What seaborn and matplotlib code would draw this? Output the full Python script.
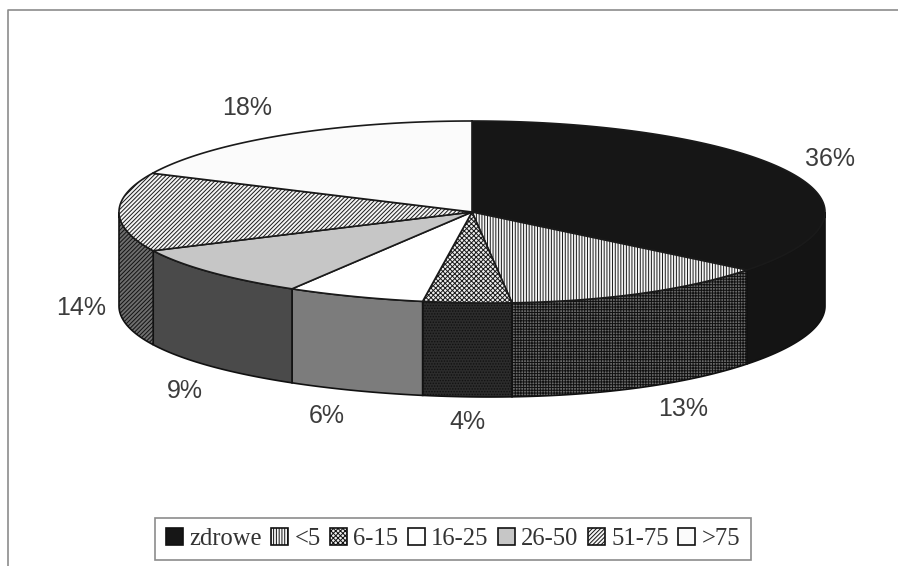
import numpy as np
import matplotlib
matplotlib.use("Agg")
import matplotlib.pyplot as plt
from matplotlib.patches import Patch, Polygon
import seaborn as sns

# Share of plants per damage class, clockwise from twelve o'clock
categories = ["zdrowe", "<5", "6-15", "16-25", "26-50", "51-75", ">75"]
shares = [36, 13, 4, 6, 9, 14, 18]

# Fill and hatch of the top faces
top_colors = ["#161616", "#f6f6f6", "#eeeeee", "#ffffff", "#c6c6c6", "#f4f4f4", "#fbfbfb"]
top_hatches = [None, "||||||", "xxxxxxx", None, None, "////////", None]
# Fill and hatch of the outer wall
wall_colors = ["#141414", "#6a6a6a", "#2c2c2c", "#7c7c7c", "#4a4a4a", "#6e6e6e", "#444444"]
wall_hatches = [None, "++++++", "......", None, None, "////////", None]

label_xy = [(830, 159), (683, 409), (467, 422), (327, 416), (185, 391), (81, 308), (247, 108)]

CX, CY = 472.0, 212.0
RX, RY = 353.0, 91.0
DEPTH = 94.0
FRONT_SKEW = 18.0

sns.set_theme(style="white")
plt.rcParams["hatch.linewidth"] = 0.7
plt.rcParams["hatch.color"] = "#111111"

fig = plt.figure(figsize=(8.98, 5.66), dpi=100, facecolor="white")
ax = fig.add_axes([0, 0, 1, 1])
ax.set_xlim(0, 898)
ax.set_ylim(566, 0)
ax.axis("off")


def rim(theta):
    """Map clockwise angles (radians from the top) onto the tilted disc's rim."""
    theta = np.asarray(theta, dtype=float)
    lean = FRONT_SKEW * np.clip(-np.cos(theta), 0, None) ** 4
    return CX + RX * np.sin(theta) + lean, CY - RY * np.cos(theta)


# Chart frame: only the top and left rules are drawn
ax.plot([8, 8, 898], [566, 10, 10], color="#8c8c8c", lw=1.2, zorder=0)

edges = np.radians(np.cumsum([0] + shares) * 3.6)

# Outer wall: only the part of each slice facing the viewer is visible
for i in range(len(shares)):
    lo = max(edges[i], np.pi / 2)
    hi = min(edges[i + 1], 3 * np.pi / 2)
    if hi <= lo:
        continue
    t = np.linspace(lo, hi, 80)
    x, y = rim(t)
    pts = np.r_[np.c_[x, y], np.c_[x[::-1], y[::-1] + DEPTH]]
    ax.add_patch(Polygon(pts, closed=True, fc=wall_colors[i], hatch=wall_hatches[i],
                         ec="#111111", lw=1.2, zorder=2))

# Top faces
for i in range(len(shares)):
    t = np.linspace(edges[i], edges[i + 1], 120)
    x, y = rim(t)
    pts = np.r_[[[CX, CY]], np.c_[x, y]]
    ax.add_patch(Polygon(pts, closed=True, fc=top_colors[i], hatch=top_hatches[i],
                         ec="#1a1a1a", lw=1.2, zorder=3))

# Percentage labels
for value, (lx, ly) in zip(shares, label_xy):
    ax.text(lx, ly, f"{value}%", ha="center", va="center", fontsize=18,
            family="Liberation Sans", color="#3c3c3c", zorder=5)

# Legend along the bottom
handles = [Patch(fc=c, hatch=h, ec="#111111", lw=1.2) for c, h in zip(top_colors, top_hatches)]
leg = ax.legend(handles, categories, ncol=7, loc="center", bbox_to_anchor=(453 / 898, 1 - 539 / 566),
                frameon=True, fancybox=False, edgecolor="#8c8c8c", framealpha=1,
                prop={"family": "Liberation Serif", "size": 17.7},
                handlelength=0.7, handleheight=0.7, handletextpad=0.25, columnspacing=0.38,
                borderpad=0.42, labelcolor="#333333")
leg.get_frame().set_linewidth(1.2)

fig.savefig("out.png", dpi=100, facecolor="white")
